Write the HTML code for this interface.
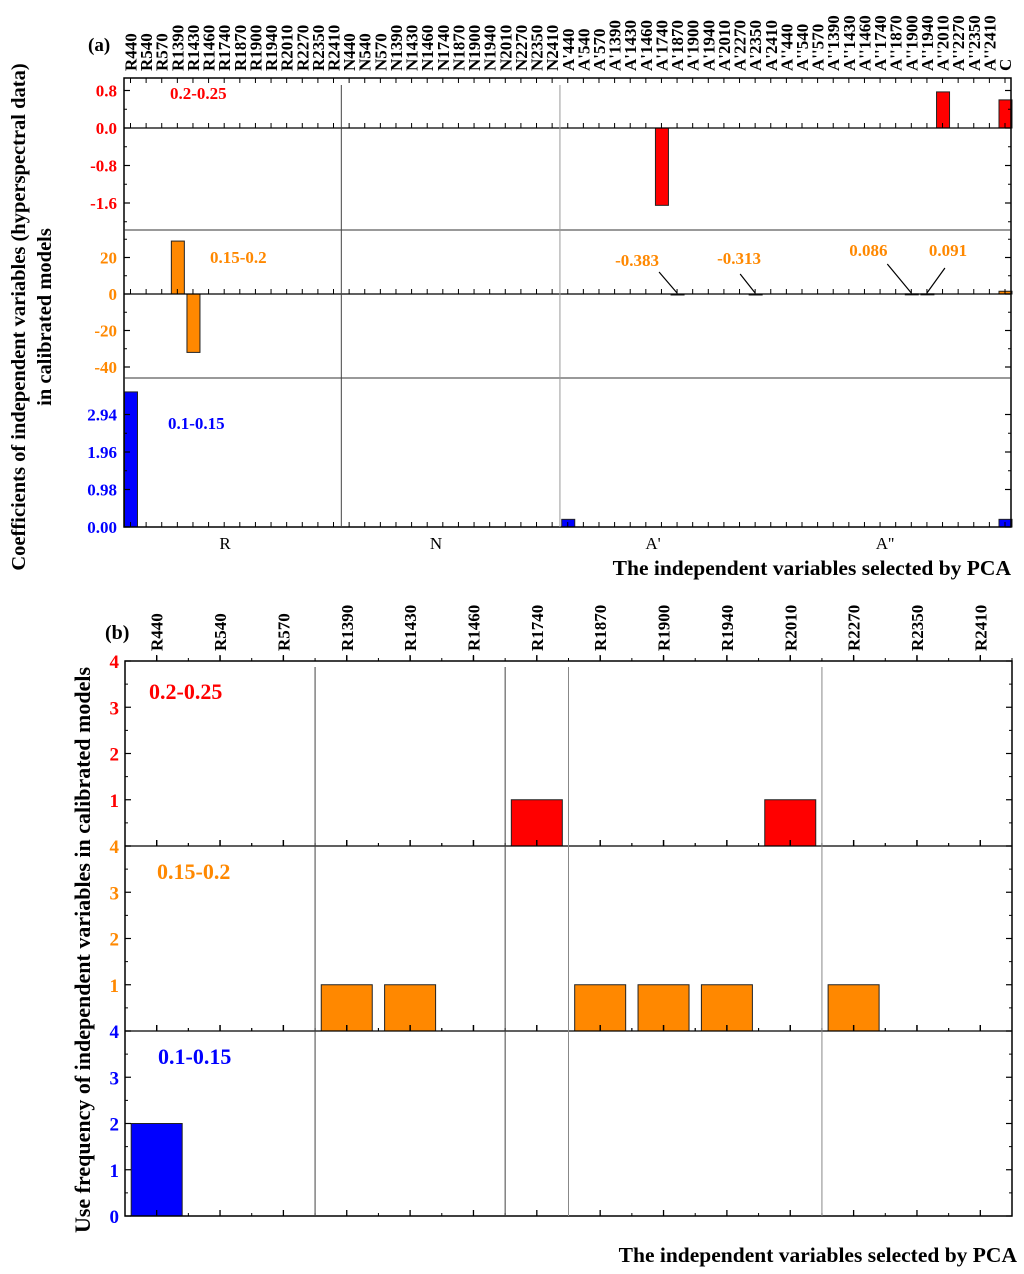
<!DOCTYPE html>
<html><head><meta charset="utf-8"><style>
html,body{margin:0;padding:0;background:#fff}
svg{display:block}
text{font-family:"Liberation Serif",serif;font-weight:bold}
</style></head><body>
<svg id="chart" width="1024" height="1274" viewBox="0 0 1024 1274" xmlns="http://www.w3.org/2000/svg">
<g id="pa"></g>
<g id="pb"></g>
</svg>
<script>
// ---------- Panel (a) data ----------
const bands = ["440","540","570","1390","1430","1460","1740","1870","1900","1940","2010","2270","2350","2410"];
const prefixes = ["R","N","A'","A''"];
const catsA = [];
prefixes.forEach(p=>bands.forEach(b=>catsA.push(p+b)));
catsA.push("C");
const redVals = {"A'1740":-1.65,"A''2010":0.77,"C":0.6};
const orangeVals = {"R1390":29,"R1430":-32,"A'1870":-0.383,"A'2350":-0.313,"A''1900":0.086,"A''1940":0.091,"C":1.5};
const blueVals = {"R440":3.53,"A'440":0.2,"C":0.2};
const redTicks = [0.8,0.0,-0.8,-1.6];
const redTickLabels = ["0.8","0.0","-0.8","-1.6"];
const orangeTicks = [20,0,-20,-40];
const orangeTickLabels = ["20","0","-20","-40"];
const blueTicks = [0,0.98,1.96,2.94];
const blueTickLabels = ["0.00","0.98","1.96","2.94"];
const annotations = [["A'1870","-0.383"],["A'2350","-0.313"],["A''1900","0.086"],["A''1940","0.091"]];
// ---------- Panel (b) data ----------
const catsB = ["R440","R540","R570","R1390","R1430","R1460","R1740","R1870","R1900","R1940","R2010","R2270","R2350","R2410"];
const redFreq = [0,0,0,0,0,0,1,0,0,0,1,0,0,0];
const orangeFreq = [0,0,0,1,1,0,0,1,1,1,0,1,0,0];
const blueFreq = [2,0,0,0,0,0,0,0,0,0,0,0,0,0];
const freqTicks = [0,1,2,3,4];
const freqTickLabels = ["0","1","2","3","4"];

const NS="http://www.w3.org/2000/svg";
function mk(parent,tag,attrs,txt){const e=document.createElementNS(NS,tag);for(const k in attrs)e.setAttribute(k,attrs[k]);if(txt!==undefined)e.textContent=txt;parent.appendChild(e);return e;}
const RED="#ff0000",ORA="#ff8800",BLU="#0000ff";

// ===== Panel A =====
const pa=document.getElementById('pa');
const aL=124,aR=1011,aT=78,aB=527;
const aStep=(1005-130.5)/56;
const xA=i=>130.5+i*aStep;
const subs=[
 {top:78,bot:230,v0:0,y0:128,ppu:37.5/0.8,vals:redVals,ticks:redTicks,labs:redTickLabels,col:RED,minor:0.4,name:'red'},
 {top:230,bot:378,v0:0,y0:294,ppu:36.5/20,vals:orangeVals,ticks:orangeTicks,labs:orangeTickLabels,col:ORA,minor:10,name:'orange'},
 {top:378,bot:527,v0:0,y0:527,ppu:37.5/0.98,vals:blueVals,ticks:blueTicks,labs:blueTickLabels,col:BLU,minor:0.49,name:'blue'}
];
subs.forEach(s=>{
 const y=v=>s.y0-(v-s.v0)*s.ppu;
 catsA.forEach((c,i)=>{
  if(s.vals[c]===undefined)return;
  const v=s.vals[c];const y1=y(v),y2=y(0);
  const r=mk(pa,'rect',{x:xA(i)-6,y:Math.min(y1,y2),width:13,height:Math.max(Math.abs(y2-y1),1),fill:s.col,stroke:'#222','stroke-width':1});
  
  
 });
 s.ticks.forEach((t,k)=>{
  const yy=y(t);
  mk(pa,'line',{x1:aL,x2:aL+6,y1:yy,y2:yy,stroke:'#000','stroke-width':1.2});
  mk(pa,'line',{x1:aR,x2:aR-6,y1:yy,y2:yy,stroke:'#000','stroke-width':1.2});
  const tx=mk(pa,'text',{x:aL-7,y:yy+6,'text-anchor':'end','font-size':17,fill:s.col},s.labs[k]);
  
  
 });
 for(let v=s.ticks[s.ticks.length-1]-4*s.minor;v<=s.ticks[0]+4*s.minor;v+=2*s.minor){
  const yy=y(v+s.minor);
  if(yy>s.top+2&&yy<s.bot-2){
   mk(pa,'line',{x1:aL,x2:aL+3,y1:yy,y2:yy,stroke:'#000'});
   mk(pa,'line',{x1:aR,x2:aR-3,y1:yy,y2:yy,stroke:'#000'});
  }
 }
});
mk(pa,'rect',{x:aL,y:aT,width:aR-aL,height:aB-aT,fill:'none',stroke:'#000','stroke-width':1.5});
[128,294].forEach(y=>mk(pa,'line',{x1:aL,x2:aR,y1:y,y2:y,stroke:'#000','stroke-width':1.3}));
[230,378].forEach(y=>mk(pa,'line',{x1:aL,x2:aR,y1:y,y2:y,stroke:'#333','stroke-width':1}));
mk(pa,'line',{x1:(xA(13)+xA(14))/2,x2:(xA(13)+xA(14))/2,y1:85,y2:aB,stroke:'#444','stroke-width':1});
mk(pa,'line',{x1:(xA(27)+xA(28))/2,x2:(xA(27)+xA(28))/2,y1:85,y2:aB,stroke:'#999','stroke-width':1});
catsA.forEach((c,i)=>{
 [aT,128,294,aB].forEach(yb=>mk(pa,'line',{x1:xA(i),x2:xA(i),y1:yb,y2:yb+(yb===aT?5:-5),stroke:'#000'}));
 const tx=mk(pa,'text',{x:0,y:0,'font-size':17,fill:'#000',transform:`translate(${xA(i)+6},71) rotate(-90)`},c);
 
 
});
[[170,99,'0.2-0.25',RED],[210,263,'0.15-0.2',ORA],[168,429,'0.1-0.15',BLU]].forEach(a=>{
 const t=mk(pa,'text',{x:a[0],y:a[1],'font-size':17,fill:a[3]},a[2]);
 
 
});
const annoOff={"A'1870":[-62,-28,-18,-22],"A'2350":[-38,-30,-15,-20],"A''1900":[-62,-38,-24,-30],"A''1940":[2,-38,18,-26]};
annotations.forEach(a=>{
 const i=catsA.indexOf(a[0]);const px=xA(i),py=294;const o=annoOff[a[0]];
 const t=mk(pa,'text',{x:px+o[0],y:py+o[1],'font-size':17,fill:ORA},a[1]);
 
 
 mk(pa,'line',{x1:px+o[2],y1:py+o[3],x2:px,y2:py-1,stroke:'#000','stroke-width':1.2});
});
mk(pa,'text',{x:88,y:51,'font-size':19,fill:'#000',},'(a)');
[['R',225],['N',436],["A'",653],["A''",885]].forEach(g=>{
 const t=mk(pa,'text',{x:g[1],y:549,'font-size':17,style:'font-weight:normal','text-anchor':'middle',fill:'#000'},g[0]);
 
 
});
mk(pa,'text',{x:1011,y:575,'font-size':21.5,'text-anchor':'end',fill:'#000',},'The independent variables selected by PCA');
const yt=mk(pa,'text',{'font-size':20.5,'text-anchor':'middle',fill:'#000',transform:'translate(25,317) rotate(-90)',});
mk(yt,'tspan',{x:0,y:0},'Coefficients of independent variables (hyperspectral data)');
mk(yt,'tspan',{x:0,y:26},'in calibrated models');

// ===== Panel B =====
const pb=document.getElementById('pb');
const bL=125,bR=1012,bT=661;
const bStep=(bR-bL)/14;
const xB=i=>bL+(i+0.5)*bStep;
const subB=[{top:661,bot:846,vals:redFreq,col:RED,name:'red',last:false},{top:846,bot:1031,vals:orangeFreq,col:ORA,name:'orange',last:false},{top:1031,bot:1216,vals:blueFreq,col:BLU,name:'blue',last:true}];
subB.forEach(s=>{
 const ppu=(s.bot-s.top)/4;const y=v=>s.bot-v*ppu;
 catsB.forEach((c,i)=>{
  if(!s.vals[i])return;
  const r=mk(pb,'rect',{x:xB(i)-25.5,y:y(s.vals[i]),width:51,height:s.vals[i]*ppu,fill:s.col,stroke:'#222','stroke-width':1});
  
  
 });
 freqTicks.forEach((t,k)=>{
  const yy=y(t);
  mk(pb,'line',{x1:bL,x2:bL+6,y1:yy,y2:yy,stroke:'#000','stroke-width':1.2});
  mk(pb,'line',{x1:bR,x2:bR-6,y1:yy,y2:yy,stroke:'#000','stroke-width':1.2});
  if(t<4){mk(pb,'line',{x1:bL,x2:bL+3,y1:yy-ppu/2,y2:yy-ppu/2,stroke:'#000'});mk(pb,'line',{x1:bR,x2:bR-3,y1:yy-ppu/2,y2:yy-ppu/2,stroke:'#000'});}
  if(t===0&&!s.last)return;
  const tx=mk(pb,'text',{x:bL-6,y:yy+7,'text-anchor':'end','font-size':19,fill:s.col},freqTickLabels[k]);
  
  
 });
 [s.top,s.bot].forEach(yb=>{
  catsB.forEach((c,i)=>{
   mk(pb,'line',{x1:xB(i),x2:xB(i),y1:yb,y2:yb-6,stroke:'#000','stroke-width':1.3});
   mk(pb,'line',{x1:xB(i)+bStep/2,x2:xB(i)+bStep/2,y1:yb,y2:yb-3,stroke:'#000'});
  });
 });
});
mk(pb,'rect',{x:bL,y:bT,width:bR-bL,height:1216-bT,fill:'none',stroke:'#000','stroke-width':1.5});
[846,1031].forEach(y=>mk(pb,'line',{x1:bL,x2:bR,y1:y,y2:y,stroke:'#000','stroke-width':1.3}));
[[3,'#444'],[6,'#444'],[7,'#888'],[11,'#888']].forEach(d=>mk(pb,'line',{x1:bL+d[0]*bStep,x2:bL+d[0]*bStep,y1:667,y2:1216,stroke:d[1],'stroke-width':1}));
catsB.forEach((c,i)=>{
 mk(pb,'line',{x1:xB(i),x2:xB(i),y1:bT,y2:bT-5,stroke:'#000','stroke-width':1.3});
 const tx=mk(pb,'text',{x:0,y:0,'font-size':17,fill:'#000',transform:`translate(${xB(i)+6},651) rotate(-90)`},c);
 
 
});
[[149,699,'0.2-0.25',RED],[157,879,'0.15-0.2',ORA],[158,1064,'0.1-0.15',BLU]].forEach(a=>{
 const t=mk(pb,'text',{x:a[0],y:a[1],'font-size':22,fill:a[3]},a[2]);
 
 
});
mk(pb,'text',{x:105,y:639,'font-size':20,fill:'#000',},'(b)');
mk(pb,'text',{x:1017,y:1262,'font-size':21.5,'text-anchor':'end',fill:'#000',},'The independent variables selected by PCA');
mk(pb,'text',{'font-size':22,'text-anchor':'middle',fill:'#000',transform:'translate(90,950) rotate(-90)',},'Use frequency of independent variables in calibrated models');
</script>
</body></html>
